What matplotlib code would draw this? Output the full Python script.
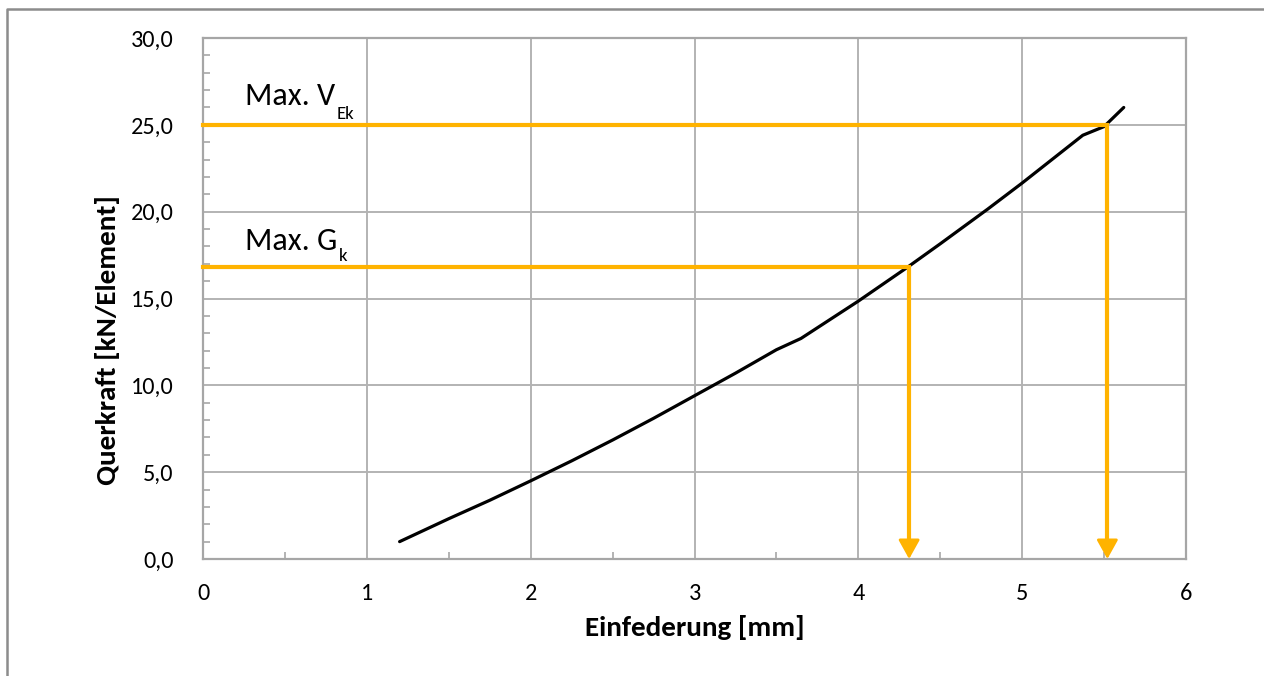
import matplotlib
matplotlib.use('Agg')
import matplotlib.pyplot as plt
from matplotlib import font_manager
from matplotlib.lines import Line2D
from matplotlib.ticker import MultipleLocator, FuncFormatter

# data
einfederung = [1.2, 1.5, 1.75, 2.0, 2.25, 2.5, 2.75, 3.0, 3.25, 3.5, 3.65, 4.0, 4.3, 4.5, 4.79, 5.0, 5.37, 5.5, 5.62]
querkraft   = [1.0, 2.32, 3.38, 4.5, 5.65, 6.85, 8.1, 9.4, 10.7, 12.05, 12.7, 14.85, 16.8, 18.15, 20.15, 21.65, 24.4, 24.9, 26.0]

max_gk  = (4.31, 16.8)
max_vek = (5.52, 25.0)

orange = '#FFB300'
grey   = '#B3B3B3'

names = {f.name for f in font_manager.fontManager.ttflist}
fam = next((n for n in ['Liberation Sans Narrow', 'Carlito', 'Lato'] if n in names), 'DejaVu Sans')
plt.rcParams['font.family'] = [fam, 'DejaVu Sans']

W, H = 1264, 676
fig = plt.figure(figsize=(W/100, H/100), dpi=100)
ax = fig.add_axes([203/W, 1-559/H, (1186-203)/W, (559-38)/H])

ax.set_xlim(0, 6)
ax.set_ylim(0, 30)
ax.xaxis.set_major_locator(MultipleLocator(1))
ax.xaxis.set_minor_locator(MultipleLocator(0.5))
ax.yaxis.set_major_locator(MultipleLocator(5))
ax.yaxis.set_minor_locator(MultipleLocator(1))
ax.yaxis.set_major_formatter(FuncFormatter(lambda v, p: f'{v:.1f}'.replace('.', ',')))
ax.xaxis.set_major_formatter(FuncFormatter(lambda v, p: f'{v:.0f}'))

ax.tick_params(which='major', length=0, labelsize=17.5, colors='black')
ax.tick_params(axis='y', which='major', pad=21)
ax.tick_params(axis='x', which='major', pad=17)
ax.tick_params(which='minor', direction='in', length=5, width=1.4, color=grey)
ax.grid(True, which='major', color=grey, lw=1.4)
ax.set_axisbelow(True)
for s in ax.spines.values():
    s.set_color('#A6A6A6')
    s.set_linewidth(1.6)

# curve
ax.plot(einfederung, querkraft, color='black', lw=2.3, solid_capstyle='round', zorder=3)

# orange markers: horizontal to the curve, then down to the x axis
for xm, ym in [max_gk, max_vek]:
    ax.plot([0, xm, xm], [ym, ym, 1.0], color=orange, lw=3, solid_joinstyle='miter', zorder=4, clip_on=False)
    ax.annotate('', xy=(xm, 0), xytext=(xm, 2.5),
                arrowprops=dict(arrowstyle='-|>,head_length=0.45,head_width=0.25', color=orange,
                                lw=2, mutation_scale=26, shrinkA=0, shrinkB=0), zorder=4)

# labels with subscripts
fig.canvas.draw()
rend = fig.canvas.get_renderer()
for ytxt, ysub, main, sub in [(26.14, 25.35, 'Max. V', 'Ek'), (17.8, 17.15, 'Max. G', 'k')]:
    t = ax.text(0.256, ytxt, main, fontsize=23, ha='left', va='baseline')
    bb = t.get_window_extent(renderer=rend)
    xs = ax.transData.inverted().transform((bb.x1 + 2, 0))[0]
    ax.text(xs, ysub, sub, fontsize=13.5, ha='left', va='baseline')

fig.text(108/W, 1-340/H, 'Querkraft [kN/Element]', rotation=90, fontsize=21,
         fontweight='bold', ha='center', va='center')
fig.text(695/W, 1-628/H, 'Einfederung [mm]', fontsize=21, fontweight='bold',
         ha='center', va='center')

# outer frame (left and top visible)
fig.add_artist(Line2D([7/W, 7/W, 1.0], [0.0, 1-9/H, 1-9/H], transform=fig.transFigure,
                      color='#8C8C8C', lw=1.8))

fig.savefig('out.png', dpi=100)
